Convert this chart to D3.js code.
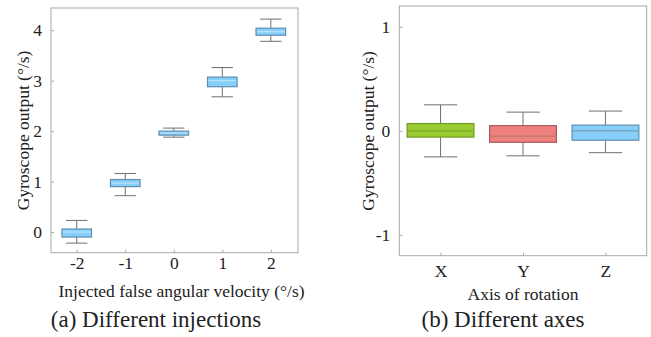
<!DOCTYPE html>
<html><head><meta charset="utf-8">
<script src="https://cdn.jsdelivr.net/npm/d3@7"></script>
<style>
body{margin:0;background:#fff;}
svg text{font-family:"Liberation Serif","Times New Roman",serif;fill:#222;}
</style></head><body>
<svg id="c" width="651" height="337"></svg>
<script>
// ---- Data: panel (a) ----
const injections = [-2, -1, 0, 1, 2];
const injLow    = [-0.22, 0.72, 1.88, 2.68, 3.78];
const injQ1     = [-0.10, 0.90, 1.92, 2.88, 3.90];
const injMedian = [0.00, 0.97, 1.96, 3.00, 3.97];
const injQ3     = [0.06, 1.04, 2.00, 3.07, 4.04];
const injHigh   = [0.23, 1.16, 2.06, 3.26, 4.22];
const injYTicks = [0, 1, 2, 3, 4];

// ---- Data: panel (b) ----
const axesCats   = ["X", "Y", "Z"];
const axLow      = [-0.25, -0.24, -0.21];
const axQ1       = [-0.06, -0.11, -0.09];
const axMedian   = [0.00, -0.05, 0.00];
const axQ3       = [0.07, 0.05, 0.055];
const axHigh     = [0.25, 0.18, 0.19];
const axYTicks   = [-1, 0, 1];
const axFill     = ["#9acd32", "#f08080", "#87cefa"];
const axStroke   = ["#6f9a25", "#a85a5a", "#5f8fad"];
const axMedStroke= ["#7aa92c", "#b97a5c", "#6f9cb5"];

const svg = d3.select("#c");

function panel(cfg){
  const g = svg.append("g");
  const x = d3.scaleLinear().domain(cfg.xDomain).range([cfg.left, cfg.right]);
  const y = d3.scaleLinear().domain(cfg.yDomain).range([cfg.bottom, cfg.top]);
  g.append("rect").attr("x", cfg.left).attr("y", cfg.top)
    .attr("width", cfg.right - cfg.left).attr("height", cfg.bottom - cfg.top)
    .attr("fill", "none").attr("stroke", "#a8a8a8").attr("stroke-width", 1);
  const ya = g.append("g").attr("transform", `translate(${cfg.left},0)`)
    .call(d3.axisLeft(y).tickValues(cfg.yTicks).tickSizeInner(-3).tickSizeOuter(0).tickPadding(9).tickFormat(d => String(d)));
  ya.select(".domain").remove();
  ya.selectAll(".tick line").attr("stroke", "#a8a8a8");
  ya.selectAll(".tick text").attr("font-size", 17.5).attr("fill", "#222").style("font-family", "Liberation Serif");
  const xa = g.append("g").attr("transform", `translate(0,${cfg.bottom})`)
    .call(d3.axisBottom(x).tickValues(cfg.xTickVals).tickSizeInner(-3).tickSizeOuter(0).tickPadding(cfg.xPad).tickFormat((d,i) => cfg.xTickLabels[i]));
  xa.select(".domain").remove();
  xa.selectAll(".tick line").attr("stroke", "#a8a8a8");
  xa.selectAll(".tick text").attr("font-size", 17.5).attr("fill", "#222").style("font-family", "Liberation Serif");
  const step = x(cfg.xTickVals[1]) - x(cfg.xTickVals[0]);
  const bw = cfg.boxFrac * step, cw = cfg.capFrac * bw;
  cfg.xTickVals.forEach((v, i) => {
    const cx = x(v);
    const wg = g.append("g").attr("stroke", "#707070").attr("stroke-width", 1);
    wg.append("line").attr("x1", cx).attr("x2", cx).attr("y1", y(cfg.high[i])).attr("y2", y(cfg.q3[i]));
    wg.append("line").attr("x1", cx).attr("x2", cx).attr("y1", y(cfg.q1[i])).attr("y2", y(cfg.low[i]));
    wg.append("line").attr("x1", cx - cw/2).attr("x2", cx + cw/2).attr("y1", y(cfg.high[i])).attr("y2", y(cfg.high[i]));
    wg.append("line").attr("x1", cx - cw/2).attr("x2", cx + cw/2).attr("y1", y(cfg.low[i])).attr("y2", y(cfg.low[i]));
    g.append("rect").attr("x", cx - bw/2).attr("y", y(cfg.q3[i]))
      .attr("width", bw).attr("height", y(cfg.q1[i]) - y(cfg.q3[i]))
      .attr("fill", cfg.fill[i]).attr("stroke", cfg.stroke[i]).attr("stroke-width", 1.2);
    g.append("line").attr("x1", cx - bw/2 + 1).attr("x2", cx + bw/2 - 1)
      .attr("y1", y(cfg.median[i])).attr("y2", y(cfg.median[i]))
      .attr("stroke", cfg.med[i]).attr("stroke-width", 1.2);
  });
  const my = (cfg.top + cfg.bottom) / 2;
  g.append("text").attr("transform", `translate(${cfg.yTitleX},${my}) rotate(-90)`)
    .attr("text-anchor", "middle").attr("font-size", 17.5).text("Gyroscope output (°/s)");
  g.append("text").attr("x", cfg.xTitleX).attr("y", cfg.xTitleY)
    .attr("text-anchor", "middle").attr("font-size", 17.5).text(cfg.xTitle);
  g.append("text").attr("x", cfg.capX).attr("y", 327)
    .attr("text-anchor", "middle").attr("font-size", 23).text(cfg.caption);
}

panel({
  left: 51, right: 298, top: 8, bottom: 252.7,
  xDomain: [-2.53, 2.56], yDomain: [-0.41, 4.44],
  xTickVals: injections, xTickLabels: injections.map(String), yTicks: injYTicks, xPad: 4,
  low: injLow, q1: injQ1, median: injMedian, q3: injQ3, high: injHigh,
  fill: injections.map(() => "#87cefa"), stroke: injections.map(() => "#5f8fad"),
  med: injections.map(() => "#b8e3fb"),
  boxFrac: 0.61, capFrac: 0.72,
  yTitleX: 29, xTitleX: 181.5, xTitleY: 297, xTitle: "Injected false angular velocity (°/s)",
  capX: 156, caption: "(a)  Different injections"
});

panel({
  left: 399.3, right: 646.7, top: 6, bottom: 255.7,
  xDomain: [0.5, 3.5], yDomain: [-1.2, 1.2],
  xTickVals: [1, 2, 3], xTickLabels: axesCats, yTicks: axYTicks, xPad: 9,
  low: axLow, q1: axQ1, median: axMedian, q3: axQ3, high: axHigh,
  fill: axFill, stroke: axStroke, med: axMedStroke,
  boxFrac: 0.81, capFrac: 0.5,
  yTitleX: 374, xTitleX: 523, xTitleY: 300, xTitle: "Axis of rotation",
  capX: 503, caption: "(b)  Different axes"
});
</script>
</body></html>
